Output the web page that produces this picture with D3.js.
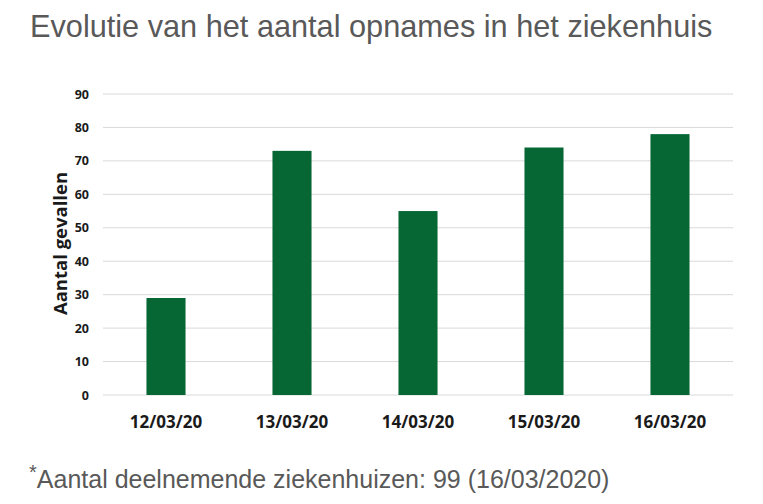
<!DOCTYPE html>
<html>
<head>
  <script src="https://d3js.org/d3.v7.min.js"></script>
  <style>
    body { margin: 0; background: #fff; }
    svg { display: block; }
  </style>
</head>
<body>
  <script>
    const dates = ["12/03/20", "13/03/20", "14/03/20", "15/03/20", "16/03/20"];
    const admissions = [29, 73, 55, 74, 78];
    const yTicks = [0, 10, 20, 30, 40, 50, 60, 70, 80, 90];

    const width = 763;
    const height = 504;
    const svg = d3.select("body")
      .append("svg")
      .attr("width", width)
      .attr("height", height);

    const margin = { left: 103, right: 30, top: 94, bottom: 109 };

    const x = d3.scaleBand()
      .domain(dates)
      .range([margin.left, width - margin.right])
      .paddingInner(0.69)
      .paddingOuter(0.345);

    const y = d3.scaleLinear()
      .domain([0, 90])
      .range([height - margin.bottom, margin.top]);

    // title
    svg.append("text")
      .attr("x", 30)
      .attr("y", 37)
      .attr("font-family", "Liberation Sans, Arial, sans-serif")
      .attr("font-size", "30.7px")
      .attr("fill", "#595959")
      .text("Evolutie van het aantal opnames in het ziekenhuis");

    // gridlines
    svg.append("g")
      .selectAll("line")
      .data(yTicks)
      .join("line")
      .attr("x1", margin.left)
      .attr("x2", width - margin.right)
      .attr("y1", d => y(d))
      .attr("y2", d => y(d))
      .attr("stroke", "#d9d9d9")
      .attr("stroke-width", 1);

    // y axis
    const yAxis = svg.append("g")
      .attr("transform", `translate(${margin.left - 14},0)`)
      .call(d3.axisLeft(y).tickValues(yTicks).tickSize(0).tickPadding(0));
    yAxis.select(".domain").remove();
    yAxis.selectAll("text")
      .attr("font-family", "Open Sans, sans-serif")
      .attr("font-weight", "bold")
      .attr("font-size", "12.5px")
      .attr("fill", "#1a1a1a");

    // x axis
    const xAxis = svg.append("g")
      .attr("transform", `translate(0,${height - margin.bottom})`)
      .call(d3.axisBottom(x).tickSize(0).tickPadding(21));
    xAxis.select(".domain").remove();
    xAxis.selectAll("text")
      .attr("font-family", "Open Sans, sans-serif")
      .attr("font-weight", "bold")
      .attr("font-size", "17px")
      .attr("fill", "#1a1a1a");

    // bars
    svg.append("g")
      .selectAll("rect")
      .data(admissions)
      .join("rect")
      .attr("x", (d, i) => x(dates[i]))
      .attr("y", d => y(d))
      .attr("width", x.bandwidth())
      .attr("height", d => y(0) - y(d))
      .attr("fill", "#066634");

    // y label
    svg.append("text")
      .attr("transform", `translate(67,${(y(0) + y(90)) / 2 - 1}) rotate(-90)`)
      .attr("text-anchor", "middle")
      .attr("font-family", "Open Sans, sans-serif")
      .attr("font-weight", "bold")
      .attr("font-size", "18.5px")
      .attr("fill", "#1a1a1a")
      .text("Aantal gevallen");

    // footnote
    const foot = svg.append("text")
      .attr("x", 29)
      .attr("y", 488)
      .attr("font-family", "Liberation Sans, Arial, sans-serif")
      .attr("fill", "#595959");
    foot.append("tspan")
      .attr("font-size", "20px")
      .attr("dy", "-9")
      .text("*");
    foot.append("tspan")
      .attr("font-size", "25px")
      .attr("dy", "9")
      .text("Aantal deelnemende ziekenhuizen: 99 (16/03/2020)");
  </script>
</body>
</html>
